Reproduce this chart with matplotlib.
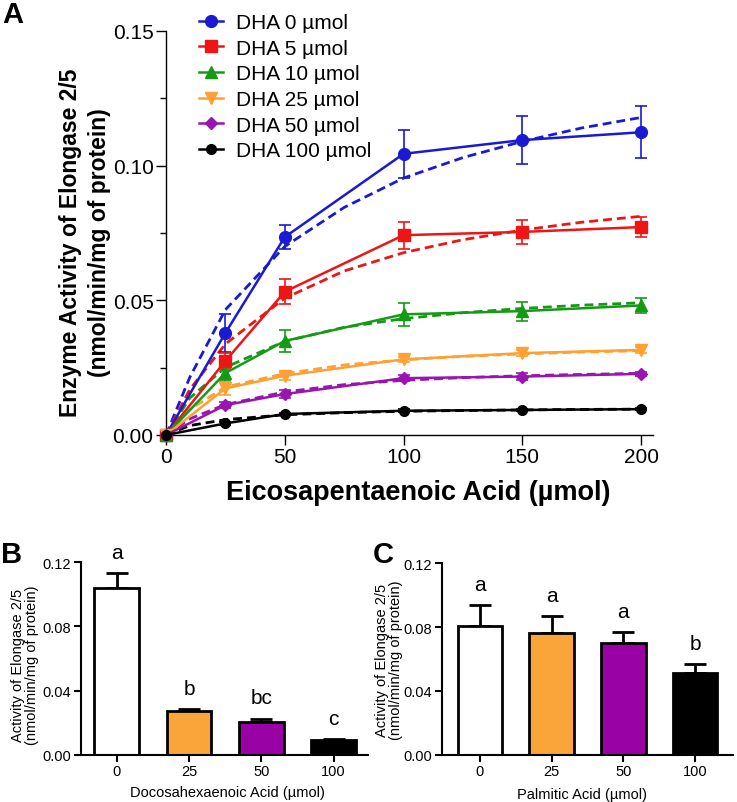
import matplotlib
matplotlib.use('Agg')
import matplotlib.pyplot as plt
from matplotlib.ticker import MultipleLocator, FormatStrFormatter

plt.rcParams['font.family'] = ['Liberation Sans', 'DejaVu Sans']

# Panel A: elongase 2/5 activity vs EPA, for several DHA doses
epa = [0, 25, 50, 100, 150, 200]
dha_labels = ['DHA 0 µmol', 'DHA 5 µmol', 'DHA 10 µmol',
              'DHA 25 µmol', 'DHA 50 µmol', 'DHA 100 µmol']
act_dha0 = [0, 0.0379, 0.0735, 0.1044, 0.1095, 0.1124]
act_dha5 = [0, 0.0275, 0.0532, 0.0742, 0.0754, 0.0772]
act_dha10 = [0, 0.0230, 0.0349, 0.0448, 0.0460, 0.0481]
act_dha25 = [0, 0.0173, 0.0220, 0.0281, 0.0304, 0.0316]
act_dha50 = [0, 0.0111, 0.0152, 0.0211, 0.0217, 0.0227]
act_dha100 = [0, 0.0043, 0.0078, 0.0090, 0.0093, 0.0096]
err_dha0 = [0, 0.0070, 0.0043, 0.0090, 0.0088, 0.0097]
err_dha5 = [0, 0.0030, 0.0046, 0.0050, 0.0046, 0.0038]
err_dha10 = [0, 0.0030, 0.0040, 0.0043, 0.0035, 0.0029]
err_dha25 = [0, 0.0025, 0.0015, 0.0010, 0.0010, 0.0010]
err_dha50 = [0, 0.0010, 0.0015, 0.0010, 0.0013, 0.0008]
err_dha100 = [0, 0.0005, 0.0005, 0.0005, 0.0005, 0.0005]

# dashed fitted curves
fit_x = [0, 10, 25, 50, 75, 100, 125, 150, 175, 200]
fit_dha0 = [0, 0.0214, 0.0465, 0.0700, 0.0845, 0.0954, 0.1030, 0.1090, 0.1140, 0.1179]
fit_dha5 = [0, 0.0169, 0.0338, 0.0508, 0.0609, 0.0677, 0.0725, 0.0761, 0.0790, 0.0812]
fit_dha10 = [0, 0.0137, 0.0251, 0.0348, 0.0400, 0.0432, 0.0454, 0.0470, 0.0482, 0.0491]
fit_dha25 = [0, 0.0095, 0.0178, 0.0228, 0.0260, 0.0279, 0.0292, 0.0301, 0.0308, 0.0313]
fit_dha50 = [0, 0.0060, 0.0113, 0.0160, 0.0187, 0.0203, 0.0213, 0.0220, 0.0225, 0.0229]
fit_dha100 = [0, 0.0035, 0.0057, 0.0075, 0.0083, 0.0088, 0.0091, 0.0093, 0.0095, 0.0096]

# Panel B: DHA doses ; Panel C: palmitic acid doses
dose_labels = ['0', '25', '50', '100']
act_b = [0.1038, 0.0272, 0.0207, 0.0089]
err_b = [0.0095, 0.0010, 0.0017, 0.0006]
sig_b = ['a', 'b', 'bc', 'c']
act_c = [0.0810, 0.0764, 0.0699, 0.0511]
err_c = [0.0130, 0.0104, 0.0069, 0.0059]
sig_c = ['a', 'a', 'a', 'b']

line_colors = ['#1a1ad2', '#ee1515', '#159a15', '#ffa032', '#9a14b0', '#000000']
markers = ['o', 's', '^', 'v', 'D', 'o']
msizes = [8.5, 8, 8.5, 8.5, 6, 7]
bar_colors = ['white', '#f9a53a', '#9903a6', 'black']

fig = plt.figure(figsize=(7.37, 8.03), dpi=100)

# ---------- panel A ----------
axA = fig.add_axes([166/737, 1-436/803, 487/737, 404/803])
acts = [act_dha0, act_dha5, act_dha10, act_dha25, act_dha50, act_dha100]
errs = [err_dha0, err_dha5, err_dha10, err_dha25, err_dha50, err_dha100]
fits = [fit_dha0, fit_dha5, fit_dha10, fit_dha25, fit_dha50, fit_dha100]
handles = []
for i in range(6):
    axA.plot(fit_x, fits[i], color=line_colors[i], lw=2, dashes=(3.2, 1.8),
             clip_on=False, zorder=2)
    h = axA.errorbar(epa, acts[i], yerr=errs[i], color=line_colors[i], lw=1.8,
                     marker=markers[i], ms=msizes[i], capsize=4, elinewidth=1.2,
                     capthick=1.2, zorder=3)
    h.lines[0].set_clip_on(False)
    handles.append(h.lines[0])

axA.set_xlim(0, 205)
axA.set_ylim(0, 0.15)
axA.xaxis.set_major_locator(MultipleLocator(50))
axA.yaxis.set_major_locator(MultipleLocator(0.05))
axA.yaxis.set_minor_locator(MultipleLocator(0.025))
axA.yaxis.set_major_formatter(FormatStrFormatter('%.2f'))
axA.spines['top'].set_visible(False)
axA.spines['right'].set_visible(False)
for s in ['left', 'bottom']:
    axA.spines[s].set_linewidth(1.0)
axA.tick_params(which='major', length=7, width=1.0, labelsize=15, pad=2)
axA.tick_params(which='minor', length=4, width=1.0)
axA.set_xlabel('Eicosapentaenoic Acid (µmol)', fontsize=19.5, fontweight='bold', va='center')
axA.xaxis.set_label_coords(0.517, -0.141)
axA.set_ylabel('Enzyme Activity of Elongase 2/5\n(nmol/min/mg of protein)',
               fontsize=16.5, fontweight='bold', va='center', linespacing=1.3)
axA.yaxis.set_label_coords(-0.166, 0.478)

fig.legend(handles, dha_labels, loc='upper left', bbox_to_anchor=(199/737, 1-14/803),
           frameon=False, fontsize=15, handlelength=1.15, handletextpad=0.65,
           labelspacing=0.32, borderpad=0, borderaxespad=0)

fig.text(13/737, 1-15/803, 'A', fontsize=21, fontweight='bold', ha='center', va='center')


# ---------- panels B and C ----------
def bar_panel(rect, xlim, vals, errs_, sigs, xlabel, ylab_xy, xlab_xy):
    ax = fig.add_axes(rect)
    pos = range(len(vals))
    ax.errorbar(pos, vals, yerr=[[0]*len(vals), errs_], fmt='none', ecolor='black',
                elinewidth=2, capsize=8, capthick=2, zorder=1)
    ax.bar(pos, vals, width=0.62, color=bar_colors, edgecolor='black', linewidth=2, zorder=2)
    for p, v, e, s in zip(pos, vals, errs_, sigs):
        ax.text(p, v + e + 0.013, s, ha='center', va='center', fontsize=15)
    ax.set_xlim(*xlim)
    ax.set_ylim(0, 0.12)
    ax.set_xticks(list(pos))
    ax.set_xticklabels(dose_labels)
    ax.yaxis.set_major_locator(MultipleLocator(0.04))
    ax.yaxis.set_major_formatter(FormatStrFormatter('%.2f'))
    ax.spines['top'].set_visible(False)
    ax.spines['right'].set_visible(False)
    for s in ['left', 'bottom']:
        ax.spines[s].set_linewidth(1.5)
    ax.tick_params(length=5, width=1.5, labelsize=10.5, pad=2)
    ax.set_xlabel(xlabel, fontsize=10.5, va='center')
    ax.xaxis.set_label_coords(*xlab_xy)
    ax.set_ylabel('Activity of Elongase 2/5\n(nmol/min/mg of protein)', fontsize=10.5,
                  va='center', linespacing=1.05)
    ax.yaxis.set_label_coords(*ylab_xy)
    return ax


bar_panel([80.7/737, 1-755.7/803, 287.6/737, 192.4/803], (-0.5, 3.48), act_b, err_b, sig_b,
          'Docosahexaenoic Acid (µmol)', (-0.194, 0.471), (0.509, -0.194))
bar_panel([441.7/737, 1-755.7/803, 291.6/737, 191.4/803], (-0.53, 3.53), act_c, err_c, sig_c,
          'Palmitic Acid (µmol)', (-0.181, 0.5), (0.481, -0.205))

fig.text(12/737, 1-555/803, 'B', fontsize=21, fontweight='bold', ha='center', va='center')
fig.text(383/737, 1-555/803, 'C', fontsize=21, fontweight='bold', ha='center', va='center')

fig.savefig('out.png', dpi=100)
